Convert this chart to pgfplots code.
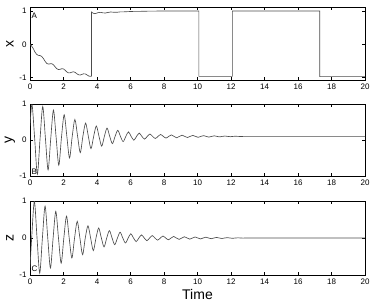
\documentclass[border=0pt]{standalone}
\usepackage{fontspec}
\setmainfont{Liberation Sans}
\usepackage{pgfplots}
\pgfplotsset{compat=1.18}
\pgfplotsset{
  panel/.style={
    width=335pt, scale only axis,
    xmin=0, xmax=20,
    xtick={0,2,...,20}, ytick={-1,0,1},
    tick align=inside,
    major tick length=3pt,
    tick style={black, line width=0.4pt},
    axis line style={black, line width=0.5pt},
    ticklabel style={font=\fontsize{8}{9}\selectfont},
    /pgf/number format/assume math mode=true,
    ylabel style={font=\fontsize{14}{16}\selectfont, at={(rel axis cs:-0.06,0.5)}, anchor=center},
    clip=true,
  },
  trace/.style={black!70, line width=0.65pt, mark=none},
}
\begin{document}
\begin{tikzpicture}
\path[use as bounding box] (0,0) rectangle (374pt,301pt);
% ---------------- Panel A ----------------
\begin{axis}[panel, height=73pt, at={(30pt,221pt)}, anchor=south west,
  ymin=-1.07, ymax=1.12, ylabel={x}]
\addplot[trace] coordinates {
(0.0,0) (0.1,-0.052) (0.2,-0.131) (0.3,-0.233) (0.4,-0.303) (0.5,-0.330)
(0.6,-0.337) (0.7,-0.363) (0.8,-0.426) (0.9,-0.508) (1.0,-0.572) (1.1,-0.594)
(1.2,-0.584) (1.3,-0.581) (1.4,-0.613) (1.5,-0.675) (1.6,-0.732) (1.7,-0.757)
(1.8,-0.749) (1.9,-0.731) (2.0,-0.738) (2.1,-0.778) (2.2,-0.827) (2.3,-0.857)
(2.4,-0.854) (2.5,-0.834) (2.6,-0.824) (2.7,-0.843) (2.8,-0.884) (2.9,-0.914)
(3.0,-0.920) (3.1,-0.902) (3.2,-0.884) (3.3,-0.888) (3.4,-0.916) (3.5,-0.949)
(3.6,-0.962) (3.67,-0.955)
(3.67,0.97) (3.75,0.94) (3.85,0.92) (3.95,0.93) (4.05,0.95) (4.2,0.96)
(4.35,0.945) (4.5,0.94) (4.65,0.955) (4.8,0.97) (4.95,0.965) (5.1,0.96)
(5.25,0.965) (5.4,0.975) (5.6,0.975) (5.8,0.98) (6.0,0.985) (6.3,0.99)
(6.6,0.99) (7.0,0.995) (8.0,1.0) (10.08,1.0)
(10.08,-0.96) (12.08,-0.96)
(12.08,1.0) (17.3,1.0)
(17.3,-0.97) (20,-0.97)
};
\node[anchor=north west, inner sep=0pt, font=\fontsize{8}{9}\selectfont] at (rel axis cs:0,1) [shift={(1.5pt,-5.5pt)}] {A};
\end{axis}
% ---------------- Panel B ----------------
\begin{axis}[panel, height=72pt, at={(30pt,125pt)}, anchor=south west,
  ymin=-1, ymax=1, ylabel={y}]
\addplot[trace, smooth] coordinates {
(0.00,0.40) (0.12,0.99) (0.28,0.03) (0.44,-0.95) (0.60,0.03) (0.76,0.93)
(0.92,0.05) (1.08,-0.83) (1.24,0.05) (1.40,0.83) (1.56,0.07) (1.72,-0.70)
(1.88,0.08) (2.04,0.70) (2.20,0.10) (2.36,-0.50) (2.52,0.10) (2.68,0.57)
(2.84,0.11) (3.00,-0.35) (3.16,0.11) (3.32,0.47) (3.48,0.11) (3.64,-0.24)
(3.80,0.10) (3.96,0.39) (4.12,0.10) (4.28,-0.17) (4.44,0.10) (4.60,0.33)
(4.76,0.10) (4.92,-0.10) (5.08,0.10) (5.24,0.27) (5.40,0.10) (5.56,-0.045)
(5.72,0.10) (5.88,0.225) (6.04,0.10) (6.20,-0.005) (6.36,0.10) (6.52,0.19)
(6.68,0.10) (6.84,0.025) (7.00,0.10) (7.16,0.165) (7.32,0.10) (7.48,0.042)
(7.64,0.10) (7.80,0.152) (7.96,0.10) (8.12,0.053) (8.28,0.10) (8.44,0.142)
(8.60,0.10) (8.76,0.062) (8.92,0.10) (9.08,0.134) (9.24,0.10) (9.40,0.069)
(9.56,0.10) (9.72,0.128) (9.88,0.10) (10.04,0.075) (10.20,0.10) (10.36,0.122)
(10.52,0.10) (10.68,0.081) (10.84,0.10) (11.00,0.116) (11.16,0.10) (11.32,0.087)
(11.48,0.10) (11.64,0.110) (11.80,0.10) (11.96,0.092) (12.12,0.10) (12.28,0.105)
(12.44,0.10) (12.60,0.097) (12.76,0.10) (14,0.10) (20,0.10)
};
\node[anchor=south west, inner sep=0pt, font=\fontsize{8}{9}\selectfont] at (rel axis cs:0,0) [shift={(1.5pt,1.5pt)}] {B};
\end{axis}
% ---------------- Panel C ----------------
\begin{axis}[panel, height=74pt, at={(30pt,26pt)}, anchor=south west,
  ymin=-1, ymax=1, ylabel={z},
  xlabel={Time}, xlabel style={font=\fontsize{14}{16}\selectfont, yshift=2pt}]
\addplot[trace, smooth] coordinates {
(0.00,-0.80) (0.10,0.00) (0.26,0.99) (0.42,0.00) (0.58,-0.95) (0.74,0.00)
(0.90,0.86) (1.06,0.00) (1.22,-0.81) (1.38,0.00) (1.54,0.72) (1.70,0.00)
(1.86,-0.68) (2.02,0.00) (2.18,0.59) (2.34,0.00) (2.50,-0.54) (2.66,0.00)
(2.82,0.45) (2.98,0.00) (3.14,-0.45) (3.30,0.00) (3.46,0.33) (3.62,0.00)
(3.78,-0.34) (3.94,0.00) (4.10,0.27) (4.26,0.00) (4.42,-0.24) (4.58,0)
(4.74,0.20) (4.90,0) (5.06,-0.18) (5.22,0) (5.38,0.155) (5.54,0)
(5.70,-0.135) (5.86,0) (6.02,0.115) (6.18,0) (6.34,-0.097) (6.50,0)
(6.66,0.084) (6.82,0) (6.98,-0.072) (7.14,0) (7.30,0.065) (7.46,0)
(7.62,-0.058) (7.78,0) (7.94,0.052) (8.10,0) (8.26,-0.047) (8.42,0)
(8.58,0.042) (8.74,0) (8.90,-0.038) (9.06,0) (9.22,0.034) (9.38,0)
(9.54,-0.031) (9.70,0) (9.86,0.028) (10.02,0) (10.18,-0.025) (10.34,0)
(10.50,0.022) (10.66,0) (10.82,-0.019) (10.98,0) (11.14,0.016) (11.30,0)
(11.46,-0.013) (11.62,0) (11.78,0.010) (11.94,0) (12.10,-0.008) (12.26,0)
(12.42,0.005) (12.58,0) (12.74,-0.003) (12.90,0) (14,0) (20,0)
};
\node[anchor=south west, inner sep=0pt, font=\fontsize{8}{9}\selectfont] at (rel axis cs:0,0) [shift={(1.5pt,3pt)}] {C};
\end{axis}
\end{tikzpicture}
\end{document}
